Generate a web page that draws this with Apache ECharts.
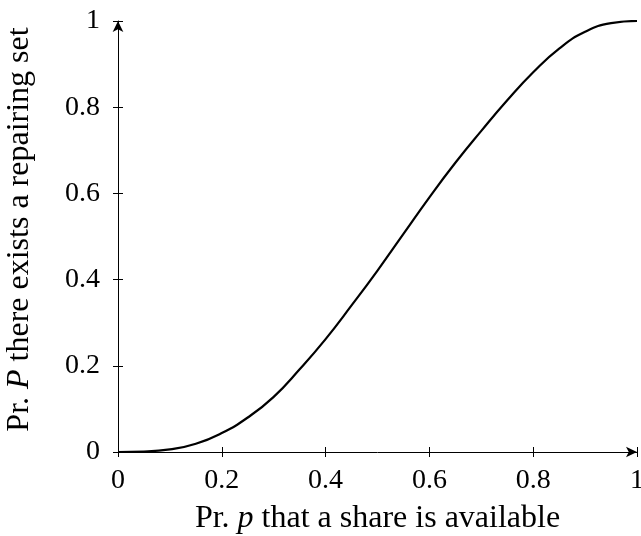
<!DOCTYPE html>
<html>
<head>
<meta charset="utf-8">
<script src="https://cdn.jsdelivr.net/npm/echarts@6/dist/echarts.min.js"></script>
<style>
  html, body { margin: 0; padding: 0; background: #fff; }
  #chart { width: 641px; height: 536px; }
</style>
</head>
<body>
<div id="chart"></div>
<script>
// Pr. p that a share is available  ->  Pr. P there exists a repairing set
let shareProb = [0, 0.05, 0.1, 0.15, 0.2, 0.25, 0.3, 0.35, 0.4, 0.45, 0.5,
  0.55, 0.6, 0.65, 0.7, 0.75, 0.8, 0.85, 0.9, 0.95, 1];
let repairProb = [0, 0.001, 0.006, 0.019, 0.044, 0.08, 0.128, 0.192, 0.262, 0.34, 0.421,
  0.506, 0.591, 0.671, 0.745, 0.816, 0.881, 0.936, 0.975, 0.995, 1];
let tickLabels = ['0', '0.2', '0.4', '0.6', '0.8', '1'];

let chartDom = document.getElementById('chart');
let myChart = echarts.init(chartDom);

const serif = 'Liberation Serif';
const black = '#000';

function fmt(v) {
  let i = Math.round(v * 5);
  return tickLabels[i] !== undefined ? tickLabels[i] : '';
}

let option = {
  animation: false,
  backgroundColor: '#fff',
  grid: {
    left: 118,
    right: 4,
    top: 21,
    bottom: 84,
    outerBoundsMode: 'none',
    containLabel: false
  },
  xAxis: [
    {
      type: 'value',
      min: 0,
      max: 1,
      interval: 0.2,
      position: 'bottom',
      name: 'Pr. {i|p} that a share is available',
      nameLocation: 'middle',
      nameGap: 51,
      nameTextStyle: {
        fontFamily: serif,
        fontSize: 32,
        color: black,
        rich: {
          i: { fontFamily: serif, fontSize: 32, fontStyle: 'italic', color: black }
        }
      },
      axisLine: {
        lineStyle: { color: black, width: 1 },
        symbol: ['none', 'arrow'],
        symbolSize: [8, 11]
      },
      axisTick: { show: true, inside: false, length: 5, lineStyle: { color: black } },
      axisLabel: {
        fontFamily: serif,
        fontSize: 28,
        color: black,
        margin: 15,
        showMaxLabel: true,
        formatter: fmt
      },
      splitLine: { show: false }
    },
    {
      // ticks drawn on the inner side too, like pgfplots
      type: 'value',
      min: 0,
      max: 1,
      interval: 0.2,
      position: 'bottom',
      axisLine: { show: false },
      axisTick: { show: true, inside: true, length: 5, lineStyle: { color: black } },
      axisLabel: { show: false },
      splitLine: { show: false }
    }
  ],
  yAxis: [
    {
      type: 'value',
      min: 0,
      max: 1,
      interval: 0.2,
      position: 'left',
      name: 'Pr. {i|P} there exists a repairing set',
      nameLocation: 'middle',
      nameGap: 82,
      nameTextStyle: {
        fontFamily: serif,
        fontSize: 32,
        color: black,
        padding: [0, 0, 0, 14],
        rich: {
          i: { fontFamily: serif, fontSize: 32, fontStyle: 'italic', color: black }
        }
      },
      axisLine: {
        lineStyle: { color: black, width: 1 },
        symbol: ['none', 'arrow'],
        symbolSize: [8, 11]
      },
      axisTick: { show: true, inside: false, length: 5, lineStyle: { color: black } },
      axisLabel: {
        fontFamily: serif,
        fontSize: 28,
        color: black,
        margin: 18,
        formatter: fmt
      },
      splitLine: { show: false }
    },
    {
      type: 'value',
      min: 0,
      max: 1,
      interval: 0.2,
      position: 'left',
      axisLine: { show: false },
      axisTick: { show: true, inside: true, length: 5, lineStyle: { color: black } },
      axisLabel: { show: false },
      splitLine: { show: false }
    }
  ],
  series: [
    {
      type: 'line',
      data: shareProb.map(function (p, i) {
        return [p, repairProb[i]];
      }),
      smooth: 0.5,
      showSymbol: false,
      lineStyle: { color: black, width: 2.2 },
      z: 3
    }
  ]
};

myChart.setOption(option);
</script>
</body>
</html>
